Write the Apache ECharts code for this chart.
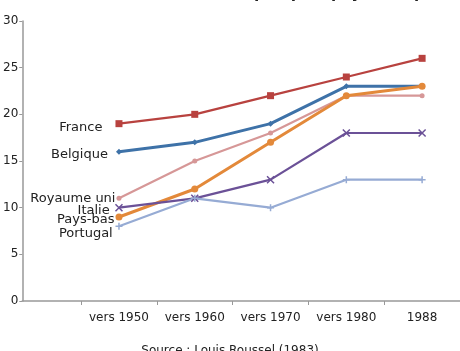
<!DOCTYPE html>
<html>
<head>
<meta charset="utf-8">
<script src="https://cdn.jsdelivr.net/npm/echarts@6/dist/echarts.min.js"></script>
<style>html,body{margin:0;padding:0;background:#fff;}#c{width:460px;height:351px;}</style>
</head>
<body>
<div id="c"></div>
<script>
const categories = ['vers 1950', 'vers 1960', 'vers 1970', 'vers 1980', '1988'];
const seriesNames = ['France', 'Belgique', 'Royaume uni', 'Pays-bas', 'Italie', 'Portugal'];
const france = [19, 20, 22, 24, 26];
const belgique = [16, 17, 19, 23, 23];
const royaumeUni = [11, 15, 18, 22, 22];
const paysBas = [9, 12, 17, 22, 23];
const italie = [10, 11, 13, 18, 18];
const portugal = [8, 11, 10, 13, 13];
const yTicks = [0, 5, 10, 15, 20, 25, 30];
const titleText = "Taux d'activité féminine dans quelques pays européens";
const sourceText = 'Source : Louis Roussel (1983)';

const values = [france, belgique, royaumeUni, paysBas, italie, portugal];
const colors = ['#b8423f', '#3e72a8', '#d69797', '#e3893a', '#6b5197', '#96abd4'];
const symbols = ['rect', 'diamond', 'circle', 'circle',
  'path://M0,0L10,10M10,0L0,10', 'path://M5,0L5,10M0,5L10,5'];
const symbolSizes = [7, 6, 5, 7, 7, 7];
const widths = [2.2, 3, 2.2, 3, 2.2, 2.2];
const labelDist = [13, 8, 1, 1, 5, 2];
const labelOff = [[0, 4], [0, 3], [0, 0], [0, 3], [0, 3], [0, 7]];

const chart = echarts.init(document.getElementById('c'), null, {renderer: 'canvas'});
const font = 'DejaVu Sans';
const series = seriesNames.map((name, i) => ({
  name: name,
  type: 'line',
  data: values[i].map((v, j) => {
    const d = {value: [j, v]};
    if (j === 0) {
      d.label = {
        show: true, position: 'left', distance: labelDist[i], offset: labelOff[i],
        formatter: name, color: '#222', fontSize: 13, fontFamily: font
      };
    }
    return d;
  }),
  symbol: symbols[i],
  symbolSize: symbolSizes[i],
  showAllSymbol: true,
  lineStyle: {color: colors[i], width: widths[i]},
  itemStyle: {color: colors[i], borderColor: colors[i], borderWidth: (i >= 4 ? 1.5 : 0)},
  emphasis: {disabled: true},
  animation: false,
  z: 2
}));

chart.setOption({
  backgroundColor: '#fff',
  animation: false,
  graphic: [
    {type: 'text', left: 'center', top: -13,
     style: {text: titleText, font: 'bold 15px "DejaVu Sans"', fill: '#222'}},
    {type: 'text', left: 'center', top: 345,
     style: {text: sourceText, font: '12px "DejaVu Sans"', fill: '#222'}}
  ],
  grid: {left: 21, right: 0, top: 21, bottom: 50, containLabel: false},
  xAxis: {
    type: 'value',
    min: -1.276,
    max: 4.5,
    splitLine: {show: false},
    axisLine: {show: true, onZero: false, lineStyle: {color: '#999', width: 1.5}},
    axisTick: {show: true, customValues: [-0.5, 0.5, 1.5, 2.5, 3.5], length: 4, lineStyle: {color: '#999'}},
    axisLabel: {
      customValues: [0, 1, 2, 3, 4],
      formatter: v => categories[Math.round(v)] || '',
      color: '#222', fontSize: 12, fontFamily: font, margin: 11
    }
  },
  yAxis: {
    type: 'value',
    min: yTicks[0],
    max: yTicks[yTicks.length - 1],
    interval: 5,
    splitLine: {show: false},
    axisLine: {show: true, onZero: false, lineStyle: {color: '#999', width: 1.5}},
    axisTick: {show: true, length: 3, lineStyle: {color: '#999'}},
    axisLabel: {color: '#222', fontSize: 12, fontFamily: font, margin: 4}
  },
  series: series
});
</script>
</body>
</html>
